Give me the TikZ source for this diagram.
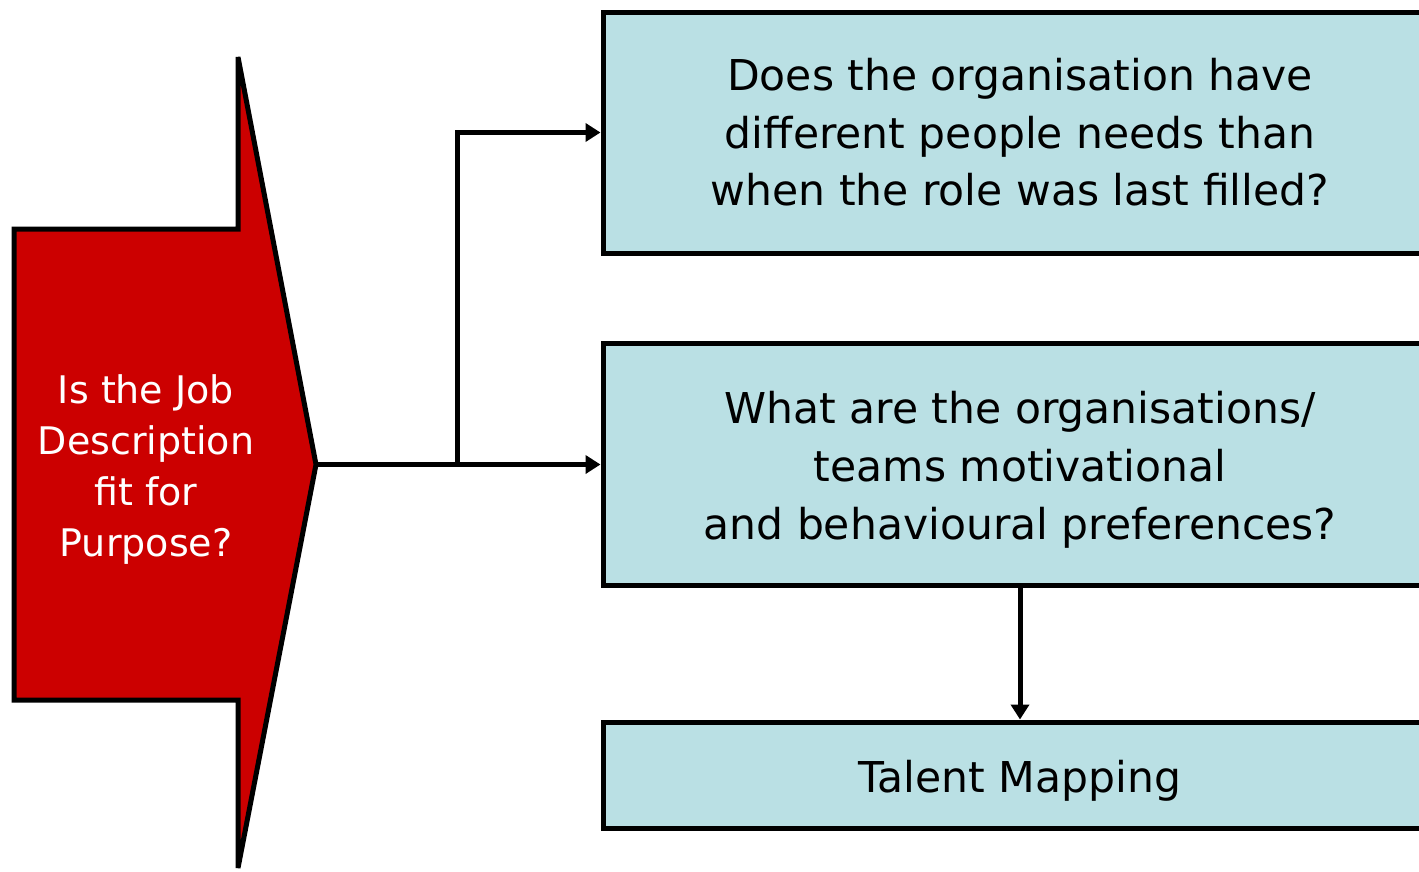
\documentclass[tikz,border=0pt]{standalone}
\usepackage{fontspec}
\setmainfont{DejaVu Sans}
\usetikzlibrary{arrows.meta}
\definecolor{boxfill}{HTML}{BAE0E4}
\definecolor{arrowred}{HTML}{CC0000}
\tikzset{
  qbox/.style={draw=black, line width=5pt, fill=boxfill, rectangle, minimum width=834pt, inner sep=0pt, align=center, font=\fontsize{42.5}{57.5}\selectfont},
  link/.style={line width=5pt, -{Triangle[length=15pt,width=18pt]}},
  plain/.style={line width=5pt}
}
\begin{document}
\begin{tikzpicture}[x=1pt,y=-1pt]
\useasboundingbox (0,0) rectangle (1419,871);
\clip (0,0) rectangle (1419,871);
% red block arrow
\draw[line width=5pt, fill=arrowred, line join=miter] (14,229) -- (238,229) -- (238,57) -- (316,464.5) -- (238,868) -- (238,700) -- (14,700) -- cycle;
\node[text=white, align=center, font=\fontsize{38}{51}\selectfont] (jd) at (146,470) {Is the Job\\Description\\fit for\\Purpose?};
\coordinate (tip) at (316,464.5);
\coordinate (branch) at (457,464.5);
\node[qbox, minimum height=241pt] (q1) at (1020,132.5) {Does the organisation have\\different people needs than\\when the role was last filled?};
\node[qbox, minimum height=242pt] (q2) at (1020,464.5) {\raisebox{-5pt}[\height][\depth]{\begin{tabular}{@{}c@{}}What are the organisations/\\[0.5pt]teams motivational\\[0.5pt]and behavioural preferences?\end{tabular}}};
\node[qbox, minimum height=106pt] (tm) at (1020,775) {\raisebox{-6pt}[\height][\depth]{Talent Mapping}};
\draw[plain] (tip) -- (branch);
\draw[link] (branch) -- (q2.west);
\draw[link] (branch) |- (q1.west);
\draw[link] (q2.south) -- (tm.north);
\end{tikzpicture}
\end{document}
